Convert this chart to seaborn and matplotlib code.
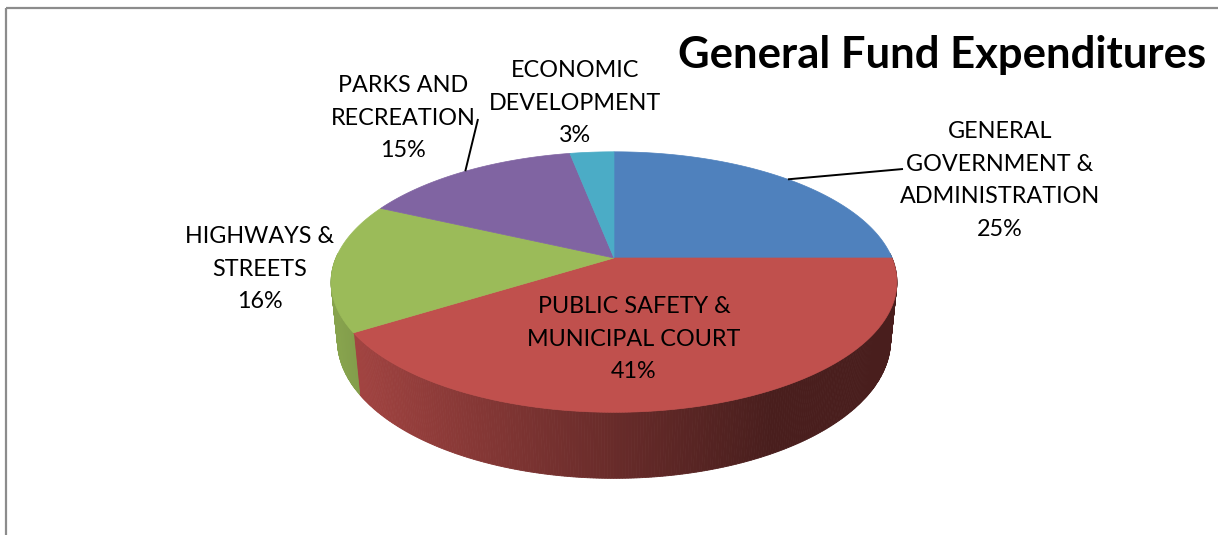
import numpy as np
import matplotlib
matplotlib.use("Agg")
import matplotlib.pyplot as plt
import seaborn as sns
from matplotlib.patches import Polygon, Rectangle

# ---------------- data ----------------
categories = ["GENERAL\nGOVERNMENT &\nADMINISTRATION",
              "PUBLIC SAFETY &\nMUNICIPAL COURT",
              "HIGHWAYS &\nSTREETS",
              "PARKS AND\nRECREATION",
              "ECONOMIC\nDEVELOPMENT"]
shares = [25, 41, 16, 15, 3]
pct_labels = ["25%", "41%", "16%", "15%", "3%"]
colors = ["#4F81BD", "#C0504D", "#9BBB59", "#8064A2", "#4BACC6"]
title = "General Fund Expenditures"

# ---------------- style ----------------
sns.set_theme(style="white")
plt.rcParams['font.family'] = ['Lato', 'DejaVu Sans']

W, H = 1218, 535
fig = plt.figure(figsize=(W / 100, H / 100), dpi=100)
ax = fig.add_axes([0, 0, 1, 1])
ax.set_xlim(0, W)
ax.set_ylim(H, 0)
ax.axis('off')

# ---------------- 3D projection of the pie ----------------
CX, CY = 614, 258
F, D = 1343.0, 4.83
elev = np.deg2rad(26.9)
se, ce = np.sin(elev), np.cos(elev)
T = 0.237  # thickness


def proj(theta_deg, r=1.0, h=0.0):
    th = np.deg2rad(theta_deg)
    u = r * np.sin(th)
    v = -r * np.cos(th)
    Z = D - v * ce - h * se
    return CX + F * u / Z, CY + F * (v * se - h * ce) / Z


vals = np.array(shares, dtype=float)
bounds = np.concatenate([[0], np.cumsum(vals)]) / vals.sum() * 360.0


def shade(hexcol, x):
    rgb = np.array(matplotlib.colors.to_rgb(hexcol))
    t = np.clip((x - 340) / 430.0, 0, 1)
    f = 0.87 - 0.49 * t ** 0.9
    return tuple(rgb * f)


# sides (front half visible)
for i, col in enumerate(colors):
    a0, a1 = max(bounds[i], 88), min(bounds[i + 1], 272)
    if a1 <= a0:
        continue
    angs = np.linspace(a0, a1, max(2, int((a1 - a0) / 0.5) + 1))
    for a, b in zip(angs[:-1], angs[1:]):
        p = [proj(a), proj(b), proj(b, h=-T), proj(a, h=-T)]
        mx = np.mean([q[0] for q in p])
        c = shade(col, mx)
        ax.add_patch(Polygon(p, closed=True, facecolor=c, edgecolor=c, lw=0.6))

# top faces
for i, col in enumerate(colors):
    angs = np.linspace(bounds[i], bounds[i + 1], 200)
    pts = [proj(0, r=0.0)] + [proj(a) for a in angs]
    ax.add_patch(Polygon(pts, closed=True, facecolor=col, edgecolor=col, lw=0.5))

# ---------------- labels ----------------
renderer = fig.canvas.get_renderer()
probe = ax.text(0, 0, "MUNICIPAL COURT", fontsize=20)
wpx = probe.get_window_extent(renderer).width
probe.remove()
fs = 20 * 205.0 / wpx * 1.04

probe = ax.text(0, 0, title, fontsize=30, fontweight='bold')
wpx = probe.get_window_extent(renderer).width
probe.remove()
fs_title = 30 * 528.0 / wpx

# layout: centre x, first baseline y
label_pos = [(1000, 138), (634, 313), (260, 243), (403, 92), (575, 77)]
step = 32.7
for cat, pct, (lx, ly) in zip(categories, pct_labels, label_pos):
    lines = cat.split("\n") + [pct]
    for k, ln in enumerate(lines):
        ax.text(lx, ly + k * step, ln, ha='center', va='baseline',
                fontsize=fs, color='black')

ax.text(942, 68, title, ha='center', va='baseline', fontsize=fs_title,
        fontweight='bold', color='black')

# leader lines
mid = (bounds[:-1] + bounds[1:]) / 2
for idx, end in [(0, (903, 169)), (3, (478, 119))]:
    sx, sy = proj(mid[idx])
    ax.plot([sx, end[0]], [sy, end[1]], color='black', lw=1.4,
            solid_capstyle='butt')

# chart border
ax.add_patch(Rectangle((6, 8), 1400, 700, fill=False, edgecolor='#8c8c8c', lw=1.6))

fig.savefig("out.png", dpi=100)
